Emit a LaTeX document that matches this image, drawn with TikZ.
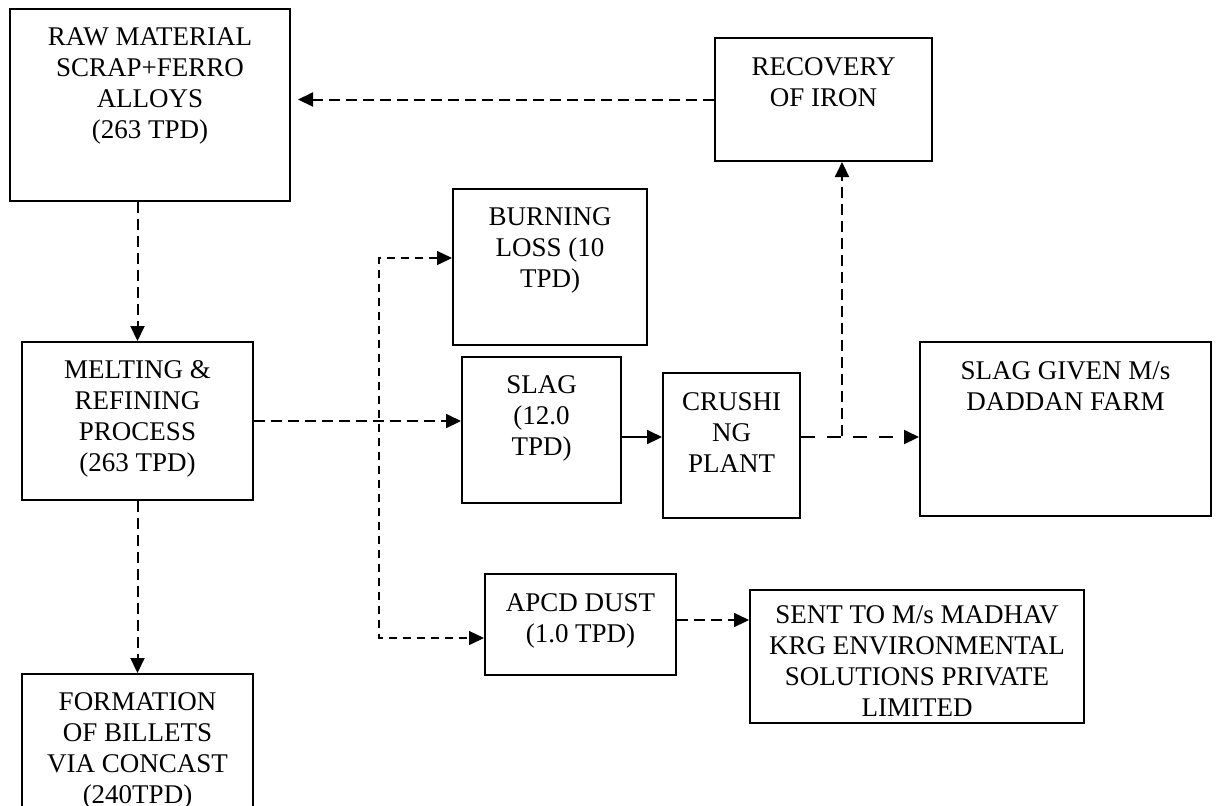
\documentclass[tikz,border=0pt]{standalone}
\usepackage{fontspec}
\setmainfont{Liberation Serif}
\usetikzlibrary{arrows.meta}

\begin{document}
\begin{tikzpicture}[x=5pt, y=-5pt,
    stage/.style={draw, line width=1pt, anchor=north west, inner sep=0pt},
    stagetext/.style={anchor=north, align=center, inner sep=0pt, font=\fontsize{13.5}{15.6}\selectfont},
    flow/.style={line width=1pt, dash pattern=on 5.5pt off 3pt, -{Triangle[length=7.5pt,width=7pt]}},
    longflow/.style={flow, dash pattern=on 7pt off 6pt},
    branch/.style={line width=0.7pt, dash pattern=on 4pt off 3pt,
      {Triangle[length=7.5pt,width=7pt]}-{Triangle[length=7.5pt,width=7pt]}},
    feed/.style={line width=1pt, -{Triangle[length=7.5pt,width=7pt]}}]
  % Page frame
  \clip (0,0) rectangle (121.8,80.5);
  \fill[white] (0,0) rectangle (121.8,80.5);

  % Process stages
  \node[stage, minimum width=140pt, minimum height=96pt] (raw) at (0.9,0.8) {};
  \node[stagetext] (rawtxt) at ([yshift=-9.5pt]raw.north) {RAW MATERIAL\\SCRAP+FERRO\\ALLOYS\\(263 TPD)};

  \node[stage, minimum width=108.5pt, minimum height=61.5pt] (rec) at (71.4,3.7) {};
  \node[stagetext] (rectxt) at ([yshift=-10pt]rec.north) {RECOVERY\\OF IRON};

  \node[stage, minimum width=97pt, minimum height=78pt] (burn) at (45.2,18.8) {};
  \node[stagetext] (burntxt) at ([yshift=-9.5pt]burn.north) {BURNING\\LOSS (10\\TPD)};

  \node[stage, minimum width=115.5pt, minimum height=79pt] (melt) at (2.1,34.1) {};
  \node[stagetext] (melttxt) at ([yshift=-9.5pt]melt.north) {MELTING \&\\REFINING\\PROCESS\\(263 TPD)};

  \node[stage, minimum width=79.5pt, minimum height=73pt] (slag) at (46.1,35.6) {};
  \node[stagetext] (slagtxt) at ([yshift=-9.5pt]slag.north) {SLAG\\(12.0\\TPD)};

  \node[stage, minimum width=68.5pt, minimum height=72.5pt] (crush) at (66.2,37.2) {};
  \node[stagetext] (crushtxt) at ([yshift=-10pt]crush.north) {CRUSHI\\NG\\PLANT};

  \node[stage, minimum width=145.5pt, minimum height=87pt] (sgiven) at (91.9,34.1) {};
  \node[stagetext] (sgiventxt) at ([yshift=-10pt]sgiven.north) {SLAG GIVEN M/s\\DADDAN FARM};

  \node[stage, minimum width=95.5pt, minimum height=50.5pt] (apcd) at (48.4,57.3) {};
  \node[stagetext] (apcdtxt) at ([yshift=-10pt]apcd.north) {APCD DUST\\(1.0 TPD)};

  \node[stage, minimum width=167pt, minimum height=66.5pt] (sent) at (74.9,58.9) {};
  \node[stagetext] (senttxt) at ([yshift=-8pt]sent.north) {SENT TO M/s MADHAV\\KRG ENVIRONMENTAL\\SOLUTIONS PRIVATE\\LIMITED};

  \node[stage, minimum width=115.5pt, minimum height=80pt] (billet) at (2.1,67.3) {};
  \node[stagetext] (billettxt) at ([yshift=-9.5pt]billet.north) {FORMATION\\OF BILLETS\\VIA CONCAST\\(240TPD)};

  % Main line
  \draw[flow] (raw.south -| melt.north) -- (melt.north);
  \draw[flow] (melt.south) -- (billet.north);
  \draw[flow] (melt.east) -- (melt.east -| slag.west);

  % Side branch to burning loss and dust
  \coordinate (tap) at (37.9,41.8);
  \draw[branch] ([yshift=4.5pt]burn.west) -| (tap) |- ([yshift=-6.75pt]apcd.west);

  % Slag route
  \draw[feed] ([yshift=-3.5pt]slag.east) -- ([yshift=-3.5pt]slag.east -| crush.west);
  \draw[longflow] ([yshift=4.25pt]crush.east) -- ([yshift=4.25pt]crush.east -| sgiven.west);
  \coordinate (fork) at (84.2,43.6);
  \draw[flow] (fork) -- (fork |- rec.south);
  \draw[flow, shorten >=3.5pt] (rec.west) -- (rec.west -| raw.east);

  % Dust disposal
  \draw[flow] ([yshift=2.25pt]apcd.east) -- ([yshift=2.25pt]apcd.east -| sent.west);
\end{tikzpicture}
\end{document}
